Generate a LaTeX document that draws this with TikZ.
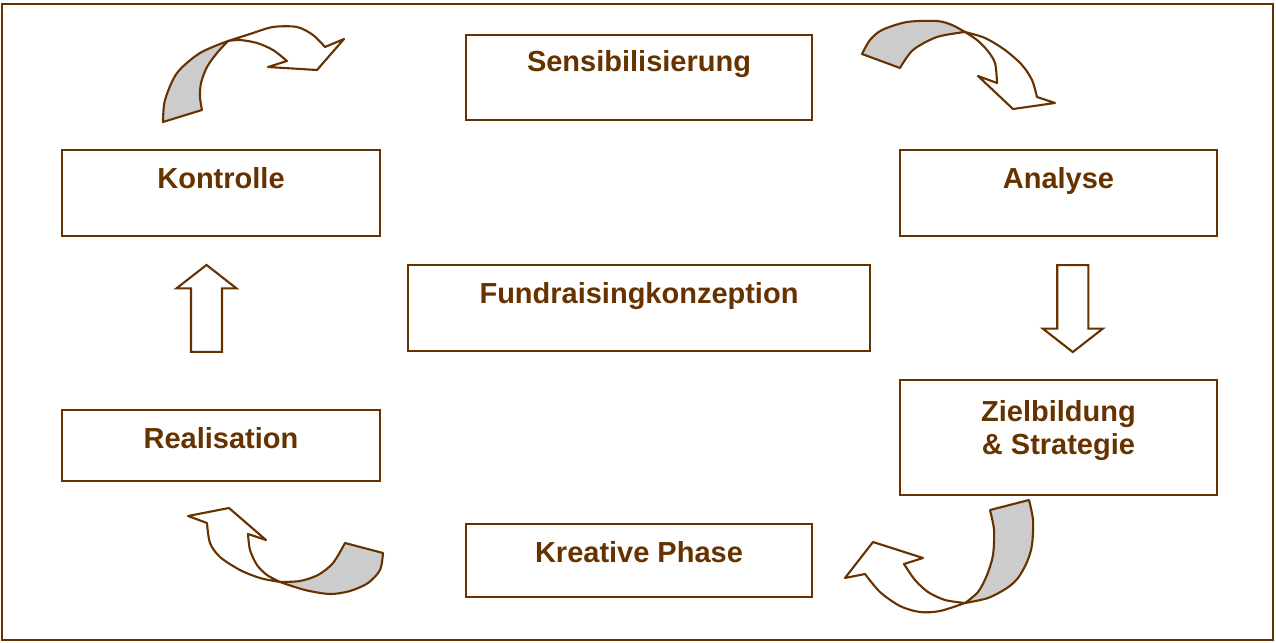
\documentclass[tikz,border=0pt]{standalone}
\usepackage{fontspec}
\setmainfont{Liberation Sans}
\usepackage{tikz}
\usetikzlibrary{shapes.arrows}
\usetikzlibrary{calc}
\definecolor{brown1}{RGB}{102, 51, 0}
\definecolor{gray1}{RGB}{204, 204, 204}

\tikzset{
  box/.style={rectangle, draw=brown1, line width=1.2pt, inner sep=0pt},
  lbl/.style={anchor=base, text=brown1, align=center,
    font=\fontsize{16.5}{18.7}\selectfont\bfseries},
  blockarrow/.style={single arrow, draw=brown1, fill=white, line width=1.2pt,
    inner xsep=0pt, inner ysep=0.29cm, minimum height=1.74cm,
    single arrow head extend=0.29cm, single arrow tip angle=104},
  ribbon/.style={draw=brown1, line width=1.2pt, line join=round},
}

\begin{document}
\begin{tikzpicture}[x=0.02cm, y=-0.02cm]
\useasboundingbox (0,0) rectangle (1276,643);
\draw[brown1, line width=0.8pt] (2,4) rectangle (1273,640);

  \node[box, minimum width=6.92cm, minimum height=1.70cm] (sens) at (639,77.5) {};
  \node[box, minimum width=6.36cm, minimum height=1.72cm] (kontr) at (221,193) {};
  \node[box, minimum width=6.34cm, minimum height=1.72cm] (anal) at (1058.5,193) {};
  \node[box, minimum width=9.24cm, minimum height=1.72cm] (fund) at (639,308) {};
  \node[box, minimum width=6.36cm, minimum height=1.42cm] (real) at (221,445.5) {};
  \node[box, minimum width=6.34cm, minimum height=2.30cm] (ziel) at (1058.5,437.5) {};
  \node[box, minimum width=6.92cm, minimum height=1.46cm] (krea) at (639,560.5) {};

  \node[lbl] (sensT) at ($(sens.north)+(0,38)$) {Sensibilisierung};
  \node[lbl] (kontrT) at ($(kontr.north)+(0,40)$) {Kontrolle};
  \node[lbl] (analT) at ($(anal.north)+(0,40)$) {Analyse};
  \node[lbl] (fundT) at ($(fund.north)+(0,40)$) {Fundraisingkonzeption};
  \node[lbl] (realT) at ($(real.north)+(0,40)$) {Realisation};
  \node[lbl] (zielT) at ($(ziel.north)+(0,75.5)$) {Zielbildung\\\& Strategie};
  \node[lbl] (kreaT) at ($(krea.north)+(0,40)$) {Kreative Phase};

  % straight arrows
  \node[blockarrow, rotate=90] (up) at (206.5,314.5) {};
  \node[blockarrow, rotate=-90] (down) at (1072.8,302.5) {};

  % curved arrows: grey tail, white head part
  \filldraw[ribbon, fill=gray1] (163,122) -- plot[smooth] coordinates
    {(163,122) (165,100) (177,73) (200,53) (228,41)}
    -- plot[smooth] coordinates {(228,41) (217,53) (207,67) (201,83) (200,97) (202,110)} -- cycle;
  \filldraw[ribbon, fill=white] plot[smooth] coordinates
    {(228,41) (250,34) (273,27) (297,27) (313,35) (325,47)}
    -- (344,39) -- (317,70) -- (268,67) -- (287,61)
    -- plot[smooth] coordinates {(287,61) (273,50) (257,43) (240,40) (228,41)} -- cycle;

  \filldraw[ribbon, fill=gray1] (900,68) -- (862,54) -- plot[smooth] coordinates
    {(862,54) (870,40) (882,30) (907,22) (937,21) (952,25) (965,32)}
    -- plot[smooth] coordinates {(965,32) (937,37) (913,50) (900,68)} -- cycle;
  \filldraw[ribbon, fill=white] plot[smooth] coordinates
    {(965,32) (985,38) (1005,50) (1022,65) (1032,80) (1037,97)}
    -- (1055,103) -- (1013,109) -- (978,76) -- (997,83)
    -- plot[smooth] coordinates {(997,83) (995,63) (987,50) (977,40) (965,32)} -- cycle;

  \filldraw[ribbon, fill=gray1] (345,543) -- (383,553) -- plot[smooth] coordinates
    {(383,553) (380,570) (368,583) (350,591) (330,594) (305,590) (280,582)}
    -- plot[smooth] coordinates {(280,582) (300,581) (318,575) (333,563) (345,543)} -- cycle;
  \filldraw[ribbon, fill=white] plot[smooth] coordinates
    {(280,582) (260,578) (240,570) (220,557) (210,543) (207,523)}
    -- (188,516) -- (229,508) -- (266,540) -- (248,534)
    -- plot[smooth] coordinates {(248,534) (250,550) (257,565) (267,575) (280,582)} -- cycle;

  \filldraw[ribbon, fill=gray1] (990,510) -- (1029,500) -- plot[smooth] coordinates
    {(1029,500) (1033,520) (1032,545) (1027,562) (1018,578) (1007,588) (988,598) (965,603)}
    -- plot[smooth] coordinates {(965,603) (978,592) (987,575) (993,555) (994,530) (990,510)} -- cycle;
  \filldraw[ribbon, fill=white] plot[smooth] coordinates
    {(965,603) (940,611) (920,612) (900,606) (880,592) (865,574)}
    -- (845,578) -- (873,542) -- (923,558) -- (904,564)
    -- plot[smooth] coordinates {(904,564) (915,580) (928,592) (945,600) (965,603)} -- cycle;
\end{tikzpicture}
\end{document}
